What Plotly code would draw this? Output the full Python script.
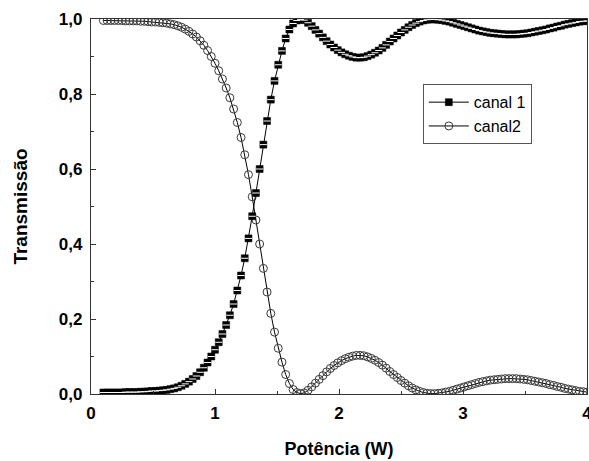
import plotly.graph_objects as go

# Sampling grid (W)
power = [round(0.10 + 0.03 * i, 2) for i in range(131)]

canal1 = [
    0.004, 0.004, 0.004, 0.004, 0.004,
    0.004, 0.005, 0.005, 0.005, 0.005,
    0.006, 0.006, 0.007, 0.008, 0.008,
    0.009, 0.010, 0.011, 0.013, 0.015,
    0.018, 0.022, 0.027, 0.033, 0.040,
    0.048, 0.058, 0.070, 0.084, 0.100,
    0.118, 0.138, 0.160, 0.184, 0.210,
    0.240, 0.276, 0.316, 0.362, 0.415,
    0.474, 0.536, 0.600, 0.665, 0.728,
    0.785, 0.835, 0.878, 0.915, 0.948,
    0.972, 0.988, 0.996, 0.999, 0.997,
    0.990, 0.981, 0.971, 0.961, 0.951,
    0.941, 0.932, 0.924, 0.917, 0.911,
    0.906, 0.902, 0.899, 0.897, 0.897,
    0.898, 0.901, 0.905, 0.910, 0.916,
    0.923, 0.931, 0.940, 0.948, 0.956,
    0.964, 0.971, 0.978, 0.984, 0.989,
    0.993, 0.996, 0.998, 0.999, 0.999,
    0.998, 0.997, 0.995, 0.993, 0.990,
    0.987, 0.984, 0.981, 0.978, 0.975,
    0.972, 0.969, 0.967, 0.965, 0.963,
    0.962, 0.961, 0.960, 0.959, 0.959,
    0.959, 0.959, 0.960, 0.961, 0.962,
    0.964, 0.966, 0.968, 0.970, 0.972,
    0.975, 0.977, 0.980, 0.982, 0.985,
    0.987, 0.989, 0.991, 0.993, 0.994,
    0.995,
]

canal2 = [
    0.996, 0.996, 0.996, 0.996, 0.996,
    0.996, 0.995, 0.995, 0.995, 0.995,
    0.994, 0.994, 0.993, 0.992, 0.992,
    0.991, 0.990, 0.989, 0.987, 0.985,
    0.982, 0.978, 0.973, 0.967, 0.960,
    0.952, 0.942, 0.930, 0.916, 0.900,
    0.882, 0.862, 0.840, 0.816, 0.790,
    0.760, 0.724, 0.684, 0.638, 0.585,
    0.526, 0.464, 0.400, 0.335, 0.272,
    0.215, 0.165, 0.122, 0.085, 0.052,
    0.028, 0.012, 0.004, 0.001, 0.003,
    0.010, 0.019, 0.029, 0.039, 0.049,
    0.059, 0.068, 0.076, 0.083, 0.089,
    0.094, 0.098, 0.101, 0.103, 0.103,
    0.102, 0.099, 0.095, 0.090, 0.084,
    0.077, 0.069, 0.060, 0.052, 0.044,
    0.036, 0.029, 0.022, 0.016, 0.011,
    0.007, 0.004, 0.002, 0.001, 0.001,
    0.002, 0.003, 0.005, 0.007, 0.010,
    0.013, 0.016, 0.019, 0.022, 0.025,
    0.028, 0.031, 0.033, 0.035, 0.037,
    0.038, 0.039, 0.040, 0.041, 0.041,
    0.041, 0.041, 0.040, 0.039, 0.038,
    0.036, 0.034, 0.032, 0.030, 0.028,
    0.025, 0.023, 0.020, 0.018, 0.015,
    0.013, 0.011, 0.009, 0.007, 0.006,
    0.005,
]

x_ticks = [0, 1, 2, 3, 4]
y_ticks = [0.0, 0.2, 0.4, 0.6, 0.8, 1.0]

FONT = "Liberation Sans, Arial, sans-serif"

fig = go.Figure()

fig.add_trace(go.Scatter(
    x=power, y=canal2, mode="lines+markers", name="canal2",
    line=dict(color="black", width=1),
    marker=dict(symbol="circle-open", size=8, color="#3a3a3a", line=dict(width=1)),
))
fig.add_trace(go.Scatter(
    x=power, y=canal1, mode="lines+markers", name="canal 1",
    line=dict(color="black", width=1),
    marker=dict(symbol="square", size=7, color="black", line=dict(color="black", width=0.5)),
))
fig.add_trace(go.Scatter(
    x=power, y=canal1, mode="markers", showlegend=False, hoverinfo="skip",
    marker=dict(symbol="line-ew", size=5, line=dict(color="white", width=1)),
))

axis_common = dict(
    showgrid=False, zeroline=False, showline=True, linecolor="#333", linewidth=1.2,
    mirror=True, ticks="inside", tickcolor="#333", ticklen=5, tickwidth=1,
    tickfont=dict(family=FONT, size=17, color="black", weight="bold"),
    ticklabeloverflow="allow", automargin=False,
)

fig.update_layout(
    width=589, height=461,
    margin=dict(l=91, r=2, t=19, b=67),
    paper_bgcolor="white", plot_bgcolor="white",
    separators=",.",
    showlegend=True,
    legend=dict(
        x=0.669, y=0.826, xanchor="left", yanchor="top",
        bgcolor="white", bordercolor="#555", borderwidth=1,
        font=dict(family=FONT, size=16, color="black"),
        traceorder="reversed", tracegroupgap=0, itemwidth=40,
    ),
    xaxis=dict(
        range=[0, 4], tickvals=x_ticks, ticktext=[str(v) for v in x_ticks],
        minor=dict(ticks="inside", dtick=0.5, ticklen=3, tickcolor="#333"),
        ticklabelstandoff=3,
        title=dict(text="Potência (W)", standoff=20,
                   font=dict(family=FONT, size=18, color="black", weight="bold")),
        **axis_common,
    ),
    yaxis=dict(
        range=[0, 1], tickvals=y_ticks, tickformat=".1f",
        minor=dict(ticks="inside", dtick=0.1, ticklen=3, tickcolor="#333"),
        ticklabelstandoff=4,
        title=dict(text="Transmissão", standoff=26,
                   font=dict(family=FONT, size=19, color="black", weight="bold")),
        **axis_common,
    ),
)

fig.write_html("out.html")
